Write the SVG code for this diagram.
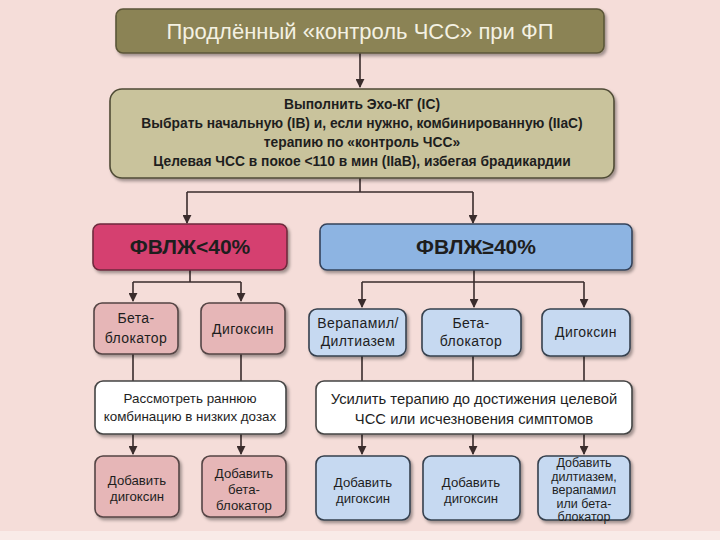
<svg xmlns="http://www.w3.org/2000/svg" width="720" height="540" viewBox="0 0 720 540">
<defs>
<filter id="sh" x="-10%" y="-10%" width="125%" height="135%">
<feDropShadow dx="2" dy="2.5" stdDeviation="1.5" flood-color="#000" flood-opacity="0.35"/>
</filter>
<marker id="ad" viewBox="0 0 10 10" refX="5" refY="9" markerWidth="9" markerHeight="9" markerUnits="userSpaceOnUse" orient="0">
<path d="M0,0 L10,0 L5,10 Z" fill="#3a2c2c"/>
</marker>
</defs>
<style>
text{font-family:"Liberation Sans",Arial,sans-serif;text-anchor:middle;fill:#1e1e1e}
.b{font-weight:bold}
.box{filter:url(#sh);stroke-width:1.6}
.olive{fill:#8b8354;stroke:#5b5638}
.khaki{fill:#c9c39c;stroke:#4f4b36}
.red{fill:#d5416f;stroke:#6e2a3d}
.blue{fill:#8db4e2;stroke:#34435a}
.lpink{fill:#e6b6b7;stroke:#544444}
.lblue{fill:#c6d9f1;stroke:#36404e}
.white{fill:#ffffff;stroke:#444444}
.c{fill:none;stroke:#3a2c2c;stroke-width:1.6}
.m{font-size:13.8px}
.s{font-size:14px;letter-spacing:0.4px}
.t{font-size:13.2px}
</style>
<rect width="720" height="540" fill="#f5ddd9"/>
<rect y="531" width="720" height="9" fill="#f9ebe8"/>

<g id="connectors">
<path class="c" d="M360,53 V87" marker-end="url(#ad)"/>
<path class="c" d="M360,178 V192 M187,192 H473"/>
<path class="c" d="M187,192 V223" marker-end="url(#ad)"/>
<path class="c" d="M473,192 V223" marker-end="url(#ad)"/>
<path class="c" d="M190,270 V282 M133,282 H241"/>
<path class="c" d="M133,282 V301" marker-end="url(#ad)"/>
<path class="c" d="M241,282 V301" marker-end="url(#ad)"/>
<path class="c" d="M474,270 V282 M362,282 H584"/>
<path class="c" d="M362,282 V307" marker-end="url(#ad)"/>
<path class="c" d="M474,282 V307" marker-end="url(#ad)"/>
<path class="c" d="M584,282 V307" marker-end="url(#ad)"/>
<path class="c" d="M133,354 V381 M241,354 V381 M362,356 V381 M473,356 V381 M584,356 V381"/>
<path class="c" d="M133,434 V454" marker-end="url(#ad)"/>
<path class="c" d="M241,434 V454" marker-end="url(#ad)"/>
<path class="c" d="M362,434 V454" marker-end="url(#ad)"/>
<path class="c" d="M473,434 V454" marker-end="url(#ad)"/>
<path class="c" d="M584,434 V454" marker-end="url(#ad)"/>
</g>

<g id="title">
<rect class="box olive" x="116" y="9" width="488" height="44" rx="7"/>
<text x="360" y="39" style="font-size:22px;fill:#f4f1e2">Продлённый «контроль ЧСС» при ФП</text>
</g>

<g id="main">
<rect class="box khaki" x="110" y="89" width="504" height="89" rx="12"/>
<text class="b m" x="362" y="109">Выполнить Эхо-КГ (IC)</text>
<text class="b m" x="362" y="128">Выбрать начальную (IB) и, если нужно, комбинированную (IIaC)</text>
<text class="b m" x="362" y="147">терапию по «контроль ЧСС»</text>
<text class="b m" x="362" y="166">Целевая ЧСС в покое &lt;110 в мин (IIaB), избегая брадикардии</text>
</g>

<g id="lvef-low">
<rect class="box red" x="93" y="224" width="194" height="46" rx="7"/>
<text class="b" x="190" y="254" style="font-size:21px">ФВЛЖ&lt;40%</text>
</g>

<g id="lvef-high">
<rect class="box blue" x="320" y="224" width="312" height="46" rx="7"/>
<text class="b" x="476" y="254" style="font-size:21px">ФВЛЖ≥40%</text>
</g>

<g id="low-beta">
<rect class="box lpink" x="94" y="303" width="84" height="51" rx="8"/>
<text class="s" x="136" y="323">Бета-</text>
<text class="s" x="136" y="343">блокатор</text>
</g>
<g id="low-digoxin">
<rect class="box lpink" x="201" y="303" width="84" height="51" rx="8"/>
<text class="s" x="243" y="334">Дигоксин</text>
</g>

<g id="high-verapamil">
<rect class="box lblue" x="309" y="309" width="97" height="47" rx="8"/>
<text class="s" x="358" y="328">Верапамил/</text>
<text class="s" x="358" y="346">Дилтиазем</text>
</g>
<g id="high-beta">
<rect class="box lblue" x="422" y="309" width="99" height="47" rx="8"/>
<text class="s" x="471" y="328">Бета-</text>
<text class="s" x="471" y="346">блокатор</text>
</g>
<g id="high-digoxin">
<rect class="box lblue" x="542" y="309" width="88" height="47" rx="8"/>
<text class="s" x="586" y="337">Дигоксин</text>
</g>

<g id="low-combo">
<rect class="box white" x="95" y="381" width="191" height="53" rx="8"/>
<text x="190" y="403" style="font-size:13.4px">Рассмотреть раннюю</text>
<text x="190" y="421" style="font-size:13.4px">комбинацию в низких дозах</text>
</g>
<g id="high-intensify">
<rect class="box white" x="316" y="381" width="316" height="53" rx="8"/>
<text x="474" y="404" style="font-size:14.8px">Усилить терапию до достижения целевой</text>
<text x="474" y="424" style="font-size:14.8px">ЧСС или исчезновения симптомов</text>
</g>

<g id="low-add-digoxin">
<rect class="box lpink" x="95" y="456" width="84" height="61" rx="8"/>
<text class="t" x="137" y="485">Добавить</text>
<text class="t" x="137" y="501">дигоксин</text>
</g>
<g id="low-add-beta">
<rect class="box lpink" x="202" y="456" width="84" height="61" rx="8"/>
<text class="t" x="244" y="478">Добавить</text>
<text class="t" x="244" y="494">бета-</text>
<text class="t" x="244" y="510">блокатор</text>
</g>
<g id="high-add-digoxin-1">
<rect class="box lblue" x="316" y="456" width="94" height="64" rx="8"/>
<text class="t" x="363" y="487">Добавить</text>
<text class="t" x="363" y="503">дигоксин</text>
</g>
<g id="high-add-digoxin-2">
<rect class="box lblue" x="423" y="456" width="97" height="64" rx="8"/>
<text class="t" x="471" y="487">Добавить</text>
<text class="t" x="471" y="503">дигоксин</text>
</g>
<g id="high-add-other">
<rect class="box lblue" x="538" y="456" width="92" height="64" rx="8"/>
<text x="584" y="467" style="font-size:12.5px">Добавить</text>
<text x="584" y="481" style="font-size:12.5px">дилтиазем,</text>
<text x="584" y="494" style="font-size:12.5px">верапамил</text>
<text x="584" y="508" style="font-size:12.5px">или бета-</text>
<text x="584" y="521" style="font-size:12.5px">блокатор</text>
</g>
</svg>
